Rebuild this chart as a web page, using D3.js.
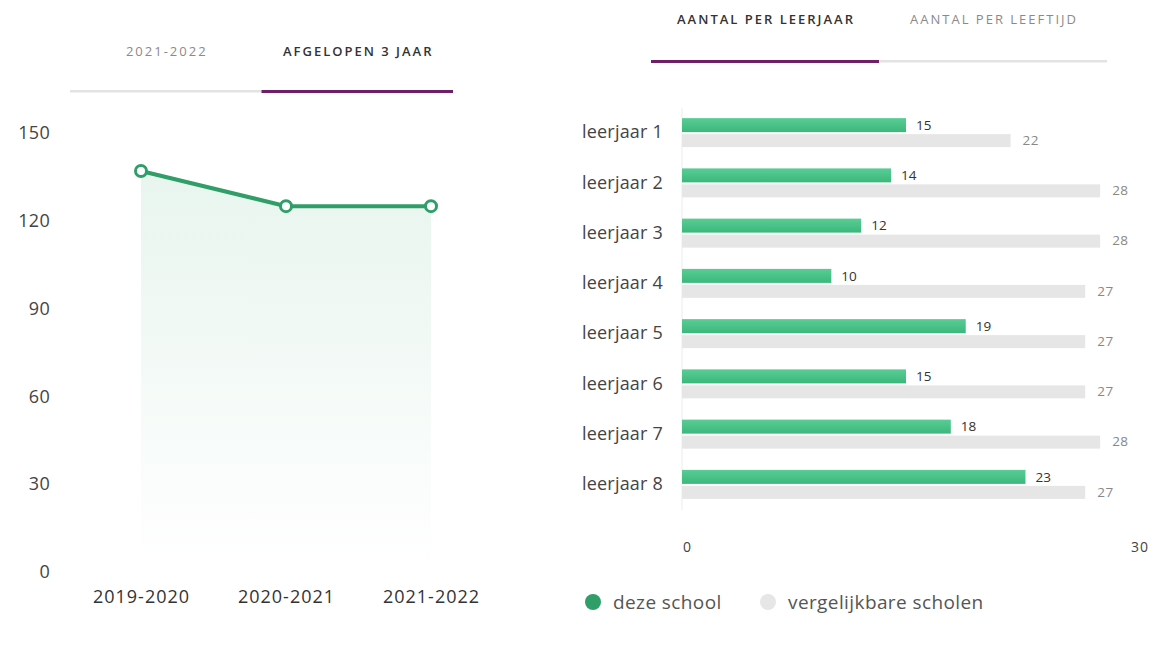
<!DOCTYPE html>
<html>
<head>
<meta charset="utf-8">
<style>
  body { margin: 0; background: #fff; }
  svg text { font-family: "Open Sans", sans-serif; }
  .tab { font-size: 13px; letter-spacing: 2px; text-anchor: middle; }
</style>
</head>
<body>
<svg width="1164" height="646"></svg>
<script src="https://d3js.org/d3.v7.min.js"></script>
<script>
// left chart: leerlingen afgelopen 3 jaar
var years = ["2019-2020", "2020-2021", "2021-2022"];
var counts = [137, 125, 125];
var yTicks = [0, 30, 60, 90, 120, 150];

// right chart: aantal per leerjaar
var grades = ["leerjaar 1", "leerjaar 2", "leerjaar 3", "leerjaar 4",
              "leerjaar 5", "leerjaar 6", "leerjaar 7", "leerjaar 8"];
var school = [15, 14, 12, 10, 19, 15, 18, 23];
var compare = [22, 28, 28, 27, 27, 27, 28, 27];
var legendLabels = ["deze school", "vergelijkbare scholen"];

var leftTabs = ["2021-2022", "AFGELOPEN 3 JAAR"];
var rightTabs = ["AANTAL PER LEERJAAR", "AANTAL PER LEEFTIJD"];

var green = "#2f9e68", purple = "#6e1f66", grey = "#e6e6e6";

var svg = d3.select("svg");
var defs = svg.append("defs");

var areaGrad = defs.append("linearGradient")
    .attr("id", "areaGrad").attr("x1", 0).attr("y1", 0).attr("x2", 0).attr("y2", 1);
areaGrad.append("stop").attr("offset", "0%").attr("stop-color", "#e8f5ee");
areaGrad.append("stop").attr("offset", "100%").attr("stop-color", "#ffffff");

var barGrad = defs.append("linearGradient")
    .attr("id", "barGrad").attr("x1", 0).attr("y1", 0).attr("x2", 0).attr("y2", 1);
barGrad.append("stop").attr("offset", "0%").attr("stop-color", "#58cd95");
barGrad.append("stop").attr("offset", "100%").attr("stop-color", "#3cb77b");

// ---- tabs
function tabs(labels, x0, x1, ty, ly, active) {
    var tx = d3.scaleBand().domain(labels).range([x0, x1]);
    var g = svg.append("g");
    g.selectAll("rect").data(labels).enter().append("rect")
        .attr("x", function(d) { return tx(d); })
        .attr("y", ly - 1)
        .attr("width", tx.bandwidth())
        .attr("height", function(d, i) { return i == active ? 3 : 2.5; })
        .attr("fill", function(d, i) { return i == active ? purple : "#e3e3e3"; });
    g.selectAll("text").data(labels).enter().append("text")
        .attr("class", "tab")
        .attr("x", function(d) { return tx(d) + tx.bandwidth() / 2 + 1; })
        .attr("y", ty)
        .attr("dy", "0.35em")
        .attr("font-weight", function(d, i) { return i == active ? 600 : 400; })
        .attr("fill", function(d, i) { return i == active ? "#333" : "#8a8a8a"; })
        .text(function(d) { return d; });
}
tabs(leftTabs, 70, 453, 51, 91, 1);
tabs(rightTabs, 651, 1107, 19, 61, 0);

// ---- left line chart
var x = d3.scalePoint().domain(years).range([141, 431]);
var y = d3.scaleLinear().domain([0, 150]).range([572, 133]);

var lineData = years.map(function(d, i) { return {year: d, value: counts[i]}; });

svg.append("path")
    .datum(lineData)
    .attr("fill", "url(#areaGrad)")
    .attr("d", d3.area()
        .x(function(d) { return x(d.year); })
        .y0(y(0))
        .y1(function(d) { return y(d.value); }));

svg.append("path")
    .datum(lineData)
    .attr("fill", "none")
    .attr("stroke", green)
    .attr("stroke-width", 4)
    .attr("d", d3.line()
        .x(function(d) { return x(d.year); })
        .y(function(d) { return y(d.value); }));

svg.selectAll(".dot").data(lineData).enter().append("circle")
    .attr("class", "dot")
    .attr("cx", function(d) { return x(d.year); })
    .attr("cy", function(d) { return y(d.value); })
    .attr("r", 5.5)
    .attr("fill", "#fff")
    .attr("stroke", green)
    .attr("stroke-width", 3);

var yAxis = svg.append("g")
    .attr("transform", "translate(50,0)")
    .call(d3.axisLeft(y).tickValues(yTicks).tickSize(0).tickPadding(0));
yAxis.select(".domain").remove();
yAxis.selectAll("text")
    .attr("font-size", 18)
    .attr("fill", "#444")
    .style("letter-spacing", "0.3px")
    .style("font-family", "'Open Sans', sans-serif");

var xAxis = svg.append("g")
    .attr("transform", "translate(0,585)")
    .call(d3.axisBottom(x).tickSize(0).tickPadding(5));
xAxis.select(".domain").remove();
xAxis.selectAll("text")
    .attr("font-size", 18)
    .attr("fill", "#333")
    .style("letter-spacing", "1px")
    .style("font-family", "'Open Sans', sans-serif");

// ---- right bar chart
var bx = d3.scaleLinear().domain([0, 30]).range([682, 1130]);
var by = d3.scaleBand().domain(grades).range([108, 510]);

svg.append("line")
    .attr("x1", bx(0)).attr("x2", bx(0))
    .attr("y1", 108).attr("y2", 510)
    .attr("stroke", "#ececec");

var rows = svg.selectAll(".row").data(grades).enter().append("g")
    .attr("class", "row")
    .attr("transform", function(d) { return "translate(0," + by(d) + ")"; });

var c = by.bandwidth() / 2;

rows.append("rect")
    .attr("x", bx(0))
    .attr("y", c - 15)
    .attr("width", function(d, i) { return bx(school[i]) - bx(0); })
    .attr("height", 14)
    .attr("fill", "url(#barGrad)");

rows.append("rect")
    .attr("x", bx(0))
    .attr("y", c + 1)
    .attr("width", function(d, i) { return bx(compare[i]) - bx(0); })
    .attr("height", 13)
    .attr("fill", grey);

rows.append("text")
    .attr("x", function(d, i) { return bx(school[i]) + 10; })
    .attr("y", c - 8)
    .attr("dy", "0.35em")
    .attr("font-size", 13.5)
    .attr("fill", "#333")
    .text(function(d, i) { return school[i]; });

rows.append("text")
    .attr("x", function(d, i) { return bx(compare[i]) + 12; })
    .attr("y", c + 7)
    .attr("dy", "0.35em")
    .attr("font-size", 13.5)
    .attr("fill", "#888")
    .style("letter-spacing", "0.5px")
    .text(function(d, i) { return compare[i]; });

rows.append("text")
    .attr("x", 663)
    .attr("y", c - 1)
    .attr("dy", "0.35em")
    .attr("text-anchor", "end")
    .attr("font-size", 18)
    .attr("fill", "#444")
    .style("letter-spacing", "0.2px")
    .text(function(d) { return d; });

svg.selectAll(".xt").data(bx.domain()).enter().append("text")
    .attr("class", "xt")
    .attr("x", function(d) { return bx(d) + 1; })
    .attr("y", 547)
    .attr("dy", "0.35em")
    .attr("font-size", 14)
    .attr("fill", "#444")
    .style("letter-spacing", "1px")
    .text(function(d) { return d; });

// legend
var legend = svg.selectAll(".leg").data(legendLabels).enter().append("g")
    .attr("class", "leg")
    .attr("transform", function(d, i) { return "translate(" + [593, 768][i] + ",602)"; });
legend.append("circle")
    .attr("r", 8)
    .attr("fill", function(d, i) { return i == 0 ? green : grey; });
legend.append("text")
    .attr("x", 20)
    .attr("dy", "0.35em")
    .attr("font-size", 19)
    .attr("fill", "#555")
    .style("letter-spacing", "0.4px")
    .text(function(d) { return d; });
</script>
</body>
</html>
